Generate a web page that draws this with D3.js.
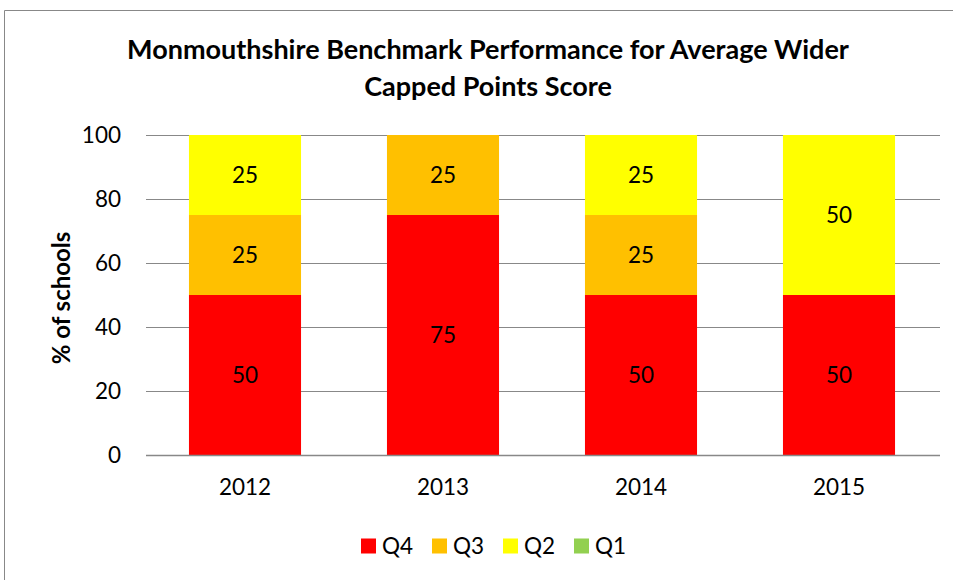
<!DOCTYPE html>
<html>
<head>
<meta charset="utf-8">
<script src="https://cdn.jsdelivr.net/npm/d3@7"></script>
<style>
  body { margin: 0; background: #fff; overflow: hidden; }
  svg { font-family: Lato, "Open Sans", sans-serif; display: block; }
</style>
</head>
<body>
<div id="chart"></div>
<script>
const years = ['2012', '2013', '2014', '2015'];
const seriesNames = ['Q4', 'Q3', 'Q2', 'Q1'];
const q4 = [50, 75, 50, 50];
const q3 = [25, 25, 25, 0];
const q2 = [25, 0, 25, 50];
const q1 = [0, 0, 0, 0];
const colors = ['#ff0000', '#ffc000', '#ffff00', '#92d050'];
const yTicks = [0, 20, 40, 60, 80, 100];

const width = 953, height = 580;
const margin = {top: 135, right: 15, bottom: 125, left: 146};
const innerWidth = 938 - margin.left;
const innerHeight = 455 - margin.top;

const svg = d3.select('#chart').append('svg')
    .attr('width', width)
    .attr('height', height);

// outer frame, runs off the right and bottom edge
svg.append('path')
    .attr('d', 'M4.5,580 V10.5 H953')
    .attr('fill', 'none')
    .attr('stroke', '#888')
    .attr('stroke-width', 1);

const table = years.map((y, i) => ({year: y, Q4: q4[i], Q3: q3[i], Q2: q2[i], Q1: q1[i]}));
const stacked = d3.stack().keys(seriesNames)(table);

const x = d3.scaleBand().domain(years).range([0, innerWidth]).paddingInner(0.434).paddingOuter(0.217);
const y = d3.scaleLinear().domain([0, 100]).range([innerHeight, 0]);

const g = svg.append('g').attr('transform', `translate(${margin.left},${margin.top})`);

// gridlines
g.append('g')
    .selectAll('line')
    .data(yTicks)
    .join('line')
    .attr('x1', 0).attr('x2', innerWidth + 2)
    .attr('y1', d => y(d) + 0.5).attr('y2', d => y(d) + 0.5)
    .attr('stroke', '#888').attr('stroke-width', 1);

// y tick labels
g.append('g')
    .selectAll('text')
    .data(yTicks)
    .join('text')
    .attr('x', -25)
    .attr('y', d => y(d))
    .attr('dy', '0.36em')
    .attr('text-anchor', 'end')
    .attr('font-size', 22.5)
    .attr('fill', '#000')
    .text(d => d);

// bars
const layers = g.append('g').selectAll('g')
    .data(stacked)
    .join('g')
    .attr('fill', (d, i) => colors[i]);

layers.selectAll('rect')
    .data(d => d)
    .join('rect')
    .attr('x', d => x(d.data.year))
    .attr('width', x.bandwidth())
    .attr('y', d => y(d[1]))
    .attr('height', d => y(d[0]) - y(d[1]));

layers.selectAll('text')
    .data(d => d.filter(v => v[1] - v[0] > 0))
    .join('text')
    .attr('x', d => x(d.data.year) + x.bandwidth() / 2)
    .attr('y', d => y((d[0] + d[1]) / 2))
    .attr('dy', '0.36em')
    .attr('text-anchor', 'middle')
    .attr('font-size', 22.5)
    .attr('fill', '#000')
    .text(d => d[1] - d[0]);

// baseline
g.append('line')
    .attr('x1', 0).attr('x2', innerWidth + 2)
    .attr('y1', innerHeight + 0.5).attr('y2', innerHeight + 0.5)
    .attr('stroke', '#888').attr('stroke-width', 1.5);

// x labels
g.append('g')
    .selectAll('text')
    .data(years)
    .join('text')
    .attr('x', d => x(d) + x.bandwidth() / 2)
    .attr('y', innerHeight + 40)
    .attr('text-anchor', 'middle')
    .attr('font-size', 22.5)
    .attr('fill', '#000')
    .text(d => d);

// title
const title = svg.append('text')
    .attr('text-anchor', 'middle')
    .attr('font-size', 27)
    .attr('font-weight', 'bold')
    .attr('fill', '#000');
title.append('tspan').attr('x', 488).attr('y', 59).text('Monmouthshire Benchmark Performance for Average Wider');
title.append('tspan').attr('x', 488).attr('y', 96).text('Capped Points Score');

// y axis title
svg.append('text')
    .attr('transform', 'translate(70,298) rotate(-90)')
    .attr('text-anchor', 'middle')
    .attr('font-size', 24)
    .attr('font-weight', 'bold')
    .attr('fill', '#000')
    .text('% of schools');

// legend
const legend = svg.append('g').attr('transform', 'translate(361,546)');
const item = legend.selectAll('g')
    .data(seriesNames)
    .join('g')
    .attr('transform', (d, i) => `translate(${i * 71},0)`);
item.append('rect')
    .attr('width', 15).attr('height', 15)
    .attr('y', -7.5)
    .attr('fill', (d, i) => colors[i]);
item.append('text')
    .attr('x', 21)
    .attr('dy', '0.36em')
    .attr('font-size', 22.5)
    .attr('fill', '#000')
    .text(d => d);
</script>
</body>
</html>
